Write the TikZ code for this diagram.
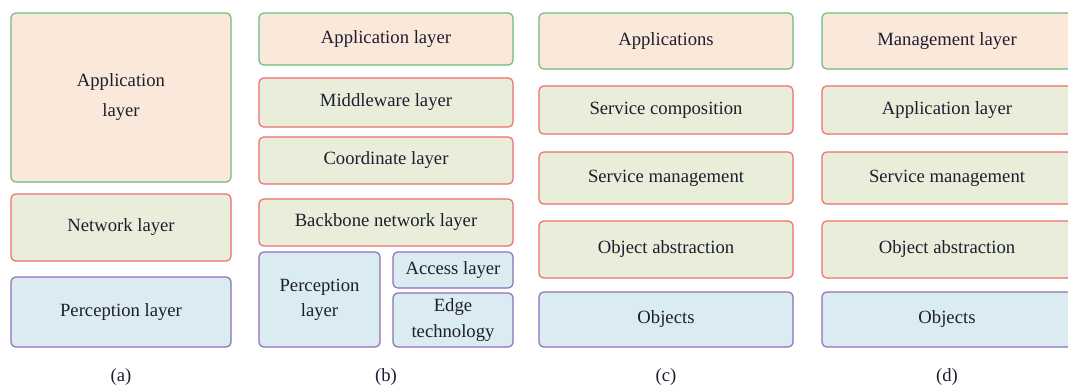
\documentclass[tikz,border=0pt]{standalone}
\usepackage{fontspec}
\setmainfont{Liberation Serif}
\usetikzlibrary{positioning}
\definecolor{peach}{HTML}{FAE9DB}
\definecolor{sage}{HTML}{E9EEDB}
\definecolor{sky}{HTML}{DAEBF1}
\definecolor{grn}{HTML}{6DBB7C}
\definecolor{rd}{HTML}{F06A6A}
\definecolor{prp}{HTML}{8A70B8}
\definecolor{ink}{HTML}{1E1E30}

\begin{document}
\begin{tikzpicture}[x=0.75pt,y=-0.75pt,
	every node/.style={text=ink,font=\fontsize{14}{19}\selectfont,align=center,inner sep=0pt,outer sep=0pt},
	box/.style={draw,line width=0.9pt,rounded corners=3.5pt,minimum height=#1*0.75pt},
	app/.style={box=#1,fill=peach,draw=grn},
	mid/.style={box=#1,fill=sage,draw=rd},
	per/.style={box=#1,fill=sky,draw=prp}]
\useasboundingbox (0,0) rectangle (1068,387);
\clip (0,0) rectangle (1068,387);
% (a)
\node[app=169,minimum width=165pt] (a1) at (121,97.5) {Application\\[3.5pt]layer};
\node[mid=67,minimum width=165pt] (a2) at (121,227.5) {Network layer};
\node[per=70,minimum width=165pt] (a3) at (121,312) {Perception layer};
% (b)
\node[app=52,minimum width=190.5pt] (b1) at (386,39) {Application layer};
\node[mid=49,minimum width=190.5pt] (b2) at (386,102.5) {Middleware layer};
\node[mid=47,minimum width=190.5pt] (b3) at (386,160.5) {Coordinate layer};
\node[mid=47,minimum width=190.5pt] (b4) at (386,222.5) {Backbone network layer};
\node[per=95,minimum width=90.75pt] (b5) at (319.5,299.5) {Perception\\layer};
\node[per=36,minimum width=90pt] (b6) at (453,270) {Access layer};
\node[per=54,minimum width=90pt] (b7) at (453,320) {Edge\\technology};
% (c) and (d)
\foreach[count=\c] \y/\h/\s/\tc/\td in {41/56/app/Applications/Management layer,
	110/48/mid/Service composition/Application layer,
	178/52/mid/Service management/Service management,
	249.5/57/mid/Object abstraction/Object abstraction,
	319.5/55/per/Objects/Objects}
{
	\node[\s=\h,minimum width=190.5pt] (c\c) at (666,\y) {\tc};
	\node[\s=\h,minimum width=187.5pt] (d\c) at (947,\y) {\td};
}
% captions
\foreach \n/\x in {a/121,b/386,c/666,d/947}
	\node (cap\n) at (\x,377) {(\n)};
\end{tikzpicture}
\end{document}
